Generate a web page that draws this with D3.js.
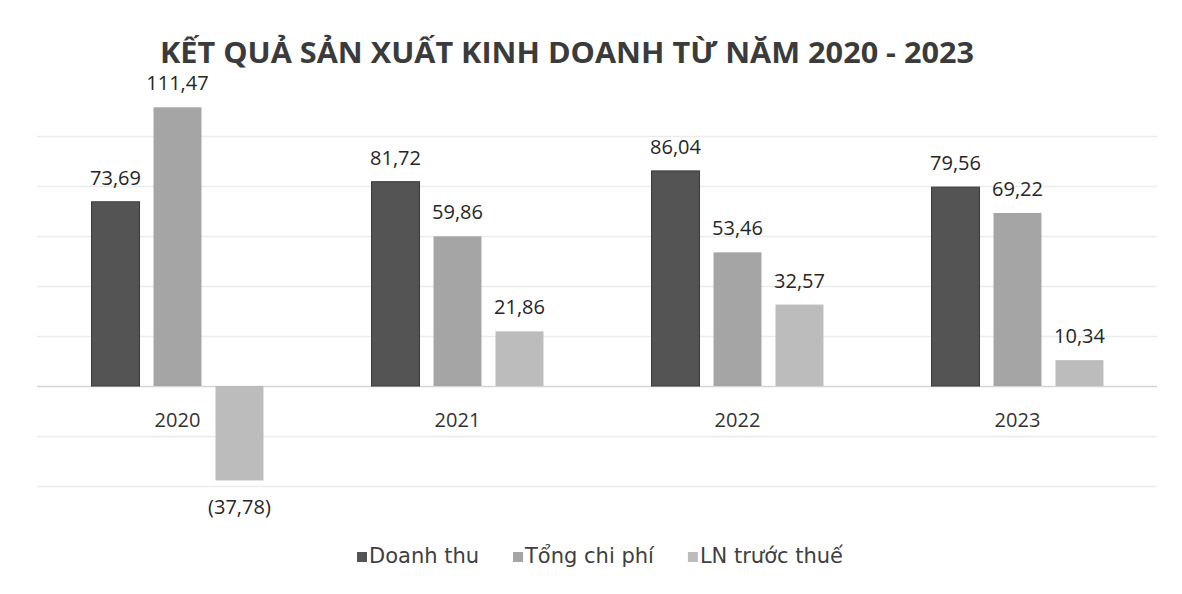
<!DOCTYPE html>
<html>
<head>
<meta charset="utf-8">
<title>Kết quả sản xuất kinh doanh</title>
<style>
    body { margin: 0; background: #fff; }
    text { font-family: "Open Sans", "Noto Sans", sans-serif; }
    text.legend { font-family: "DejaVu Sans", sans-serif; }
</style>
</head>
<body>
<script src="https://cdn.jsdelivr.net/npm/d3@7/dist/d3.min.js"></script>
<script>
    // data
    var years = ["2020", "2021", "2022", "2023"];
    var seriesNames = ["Doanh thu", "Tổng chi phí", "LN trước thuế"];
    var doanhThu = [73.69, 81.72, 86.04, 79.56];
    var tongChiPhi = [111.47, 59.86, 53.46, 69.22];
    var loiNhuan = [-37.78, 21.86, 32.57, 10.34];
    var gridTicks = [-40, -20, 0, 20, 40, 60, 80, 100];

    var width = 1182, height = 594;
    var colors = ["#545454", "#a5a5a5", "#bcbcbc"];
    var series = [doanhThu, tongChiPhi, loiNhuan];

    var svg = d3.select("body").append("svg")
        .attr("width", width)
        .attr("height", height);

    // step 280, group 172 wide, bars 48 wide with 14 gap
    var x0 = d3.scaleBand().domain(years).range([37.5, 1157.5]).paddingInner(0.386).paddingOuter(0.193);
    var x1 = d3.scaleBand().domain(d3.range(3)).range([0, x0.bandwidth()]).paddingInner(0.226);
    var y = d3.scaleLinear().domain([-40, 100]).range([486, 136]);

    // gridlines
    svg.append("g").selectAll("line")
        .data(gridTicks)
        .enter().append("line")
        .attr("x1", 37).attr("x2", 1157)
        .attr("y1", function(d){ return Math.round(y(d)) + 0.5; })
        .attr("y2", function(d){ return Math.round(y(d)) + 0.5; })
        .attr("stroke", function(d){ return d == 0 ? "#d4d4d4" : "#ececec"; })
        .attr("stroke-width", 1.5);

    // title
    svg.append("text")
        .attr("x", 567).attr("y", 63)
        .attr("text-anchor", "middle")
        .attr("font-size", "28px")
        .attr("font-weight", "bold")
        .attr("fill", "#3b3b3b")
        .attr("textLength", 814)
        .attr("lengthAdjust", "spacingAndGlyphs")
        .text("KẾT QUẢ SẢN XUẤT KINH DOANH TỪ NĂM 2020 - 2023");

    var fmt = function(v) {
        var s = Math.abs(v).toFixed(2).replace(".", ",");
        return v < 0 ? "(" + s + ")" : s;
    };

    var groups = svg.append("g").selectAll("g")
        .data(years)
        .enter().append("g")
        .attr("transform", function(d){ return "translate(" + x0(d) + ",0)"; });

    groups.selectAll("rect")
        .data(function(d, i){ return series.map(function(s, k){ return {k: k, v: s[i]}; }); })
        .enter().append("rect")
        .attr("x", function(d){ return x1(d.k); })
        .attr("width", x1.bandwidth())
        .attr("y", function(d){ return y(Math.max(0, d.v)); })
        .attr("height", function(d){ return Math.abs(y(d.v) - y(0)); })
        .attr("fill", function(d){ return colors[d.k]; })
        .attr("stroke", function(d){ return d.k == 0 ? "#3a3a3a" : "none"; })
        .attr("stroke-width", 1);

    groups.selectAll(".val")
        .data(function(d, i){ return series.map(function(s, k){ return {k: k, v: s[i]}; }); })
        .enter().append("text")
        .attr("class", "val")
        .attr("x", function(d){ return x1(d.k) + x1.bandwidth() / 2; })
        .attr("y", function(d){ return d.v >= 0 ? y(d.v) - 17 : y(d.v) + 34; })
        .attr("text-anchor", "middle")
        .attr("font-size", "20px")
        .attr("fill", "#262626")
        .text(function(d){ return fmt(d.v); });

    // category labels
    groups.append("text")
        .attr("x", x0.bandwidth() / 2)
        .attr("y", y(0) + 41)
        .attr("text-anchor", "middle")
        .attr("font-size", "20px")
        .attr("fill", "#333")
        .text(function(d){ return d; });

    // legend, laid out left to right from measured text widths
    var legend = svg.append("g").attr("transform", "translate(0,563)");
    var lx = 357;
    seriesNames.forEach(function(name, i) {
        legend.append("rect")
            .attr("x", lx).attr("y", -11).attr("width", 10).attr("height", 10)
            .attr("fill", colors[i]);
        var t = legend.append("text")
            .attr("class", "legend")
            .attr("x", lx + 12).attr("y", 0)
            .attr("font-size", "21px")
            .attr("fill", "#404040")
            .text(name);
        lx += 12 + t.node().getComputedTextLength() + 34;
    });
</script>
</body>
</html>
